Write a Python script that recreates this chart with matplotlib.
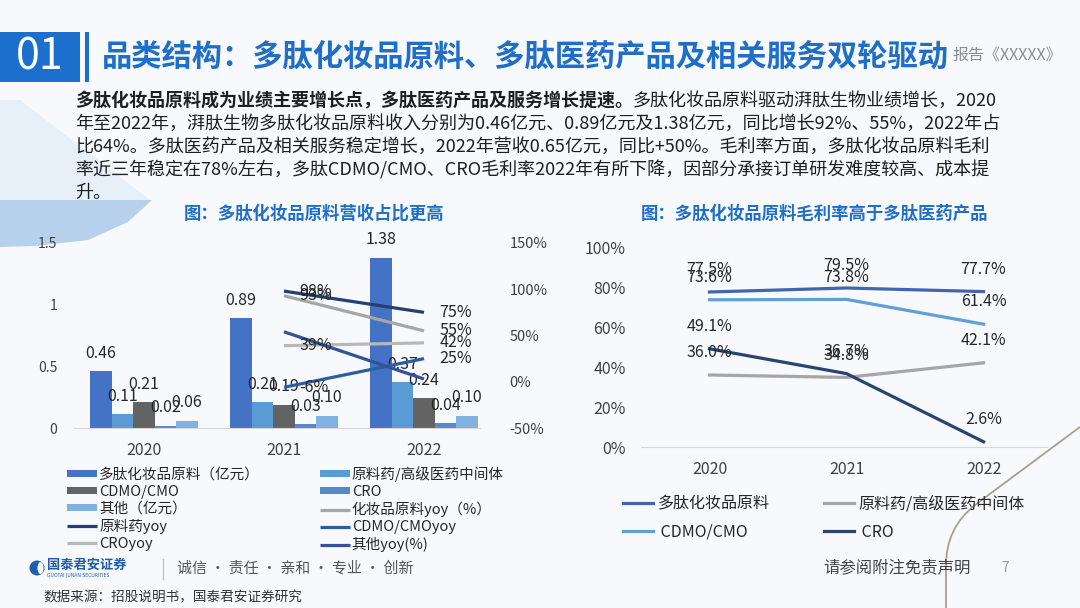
import matplotlib
matplotlib.use('Agg')
import matplotlib.pyplot as plt
from matplotlib.patches import Rectangle, Polygon, Circle, Ellipse, PathPatch
from matplotlib.path import Path
import numpy as np

plt.rcParams['font.family'] = ['Noto Sans CJK SC', 'DejaVu Sans']

# ---------------- data ----------------
years = ['2020', '2021', '2022']
bar_names = ['多肽化妆品原料（亿元）', '原料药/高级医药中间体', 'CDMO/CMO', 'CRO', '其他（亿元）']
rev_cosmetic = [0.46, 0.89, 1.38]
rev_api = [0.11, 0.21, 0.37]
rev_cdmo = [0.21, 0.19, 0.24]
rev_cro = [0.02, 0.03, 0.04]
rev_other = [0.06, 0.10, 0.10]

yoy_years = ['2021', '2022']
yoy_names = ['化妆品原料yoy（%）', '原料药yoy', 'CDMO/CMOyoy', 'CROyoy', '其他yoy(%)']
yoy_cosmetic = [93, 55]
yoy_api = [98, 75]
yoy_cdmo = [-6, 25]
yoy_cro = [39, 42]
yoy_other = [54, 3]

left_yticks = [0, 0.5, 1, 1.5]
left_yticklabels = ['0', '0.5', '1', '1.5']
right_yticks = [-50, 0, 50, 100, 150]

gm_names = ['多肽化妆品原料', '原料药/高级医药中间体', 'CDMO/CMO', 'CRO']
gm_cosmetic = [77.5, 79.5, 77.7]
gm_api = [36.0, 34.8, 42.1]
gm_cdmo = [73.6, 73.8, 61.4]
gm_cro = [49.1, 36.7, 2.6]
gm_yticks = [0, 20, 40, 60, 80, 100]

# ---------------- figure ----------------
W, H = 1080, 608
fig = plt.figure(figsize=(10.8, 6.08), dpi=100, facecolor='#f7f9fc')

bg = fig.add_axes([0, 0, 1, 1], zorder=-10)
bg.set_xlim(0, W)
bg.set_ylim(H, 0)
bg.axis('off')

# decorations
bg.add_patch(Polygon([(0, 100), (20, 100), (150, 200), (0, 200)], closed=True,
                     facecolor='#e7eff8', edgecolor='none'))
bg.add_patch(Polygon([(0, 200), (152, 200), (128, 222), (88, 240), (35, 246), (0, 247)],
                     closed=True, facecolor='#b7d0ec', edgecolor='none'))
curve = Path([(1080, 427), (975, 505), (946, 528), (946, 565), (946, 608)],
             [Path.MOVETO, Path.LINETO, Path.CURVE3, Path.CURVE3, Path.LINETO])
bg.add_patch(PathPatch(curve, facecolor='none', edgecolor='#a9a08b', lw=1.3))

# header
blue = '#1c6fcc'
bg.add_patch(Rectangle((0, 32), 80, 50, facecolor=blue, edgecolor='none'))
bg.add_patch(Rectangle((85, 32), 4, 50, facecolor=blue, edgecolor='none'))
bg.text(40, 57, '01', color='white', fontsize=31, ha='center', va='center', fontweight='light')
bg.text(1062, 55, '报告《XXXXX》', color='#8a8f96', fontsize=11.5, ha='right', va='center')
bg.text(102, 57, '品类结构：多肽化妆品原料、多肽医药产品及相关服务双轮驱动', color='#1f6fc8',
        fontsize=21.8, fontweight='bold', ha='left', va='center')

# paragraph
ptxt = '#1e1e1e'
t1 = bg.text(75, 101, '多肽化妆品原料成为业绩主要增长点，多肽医药产品及服务增长提速。',
             fontsize=13, fontweight='bold', color=ptxt, ha='left', va='center')
bg.annotate('多肽化妆品原料驱动湃肽生物业绩增长，2020', xy=(1, 0.5), xycoords=t1,
            fontsize=13, color=ptxt, ha='left', va='center')
para = ['年至2022年，湃肽生物多肽化妆品原料收入分别为0.46亿元、0.89亿元及1.38亿元，同比增长92%、55%，2022年占',
        '比64%。多肽医药产品及相关服务稳定增长，2022年营收0.65亿元，同比+50%。毛利率方面，多肽化妆品原料毛利',
        '率近三年稳定在78%左右，多肽CDMO/CMO、CRO毛利率2022年有所下降，因部分承接订单研发难度较高、成本提',
        '升。']
for i, line in enumerate(para):
    bg.text(75, 124 + 23 * i, line, fontsize=13, color=ptxt, ha='left', va='center')

# chart titles
bg.text(314, 214, '图：多肽化妆品原料营收占比更高', color='#1f6fc8', fontsize=12.5,
        fontweight='bold', ha='center', va='center')
bg.text(815, 214, '图：多肽化妆品原料毛利率高于多肽医药产品', color='#1f6fc8', fontsize=12.5,
        fontweight='bold', ha='center', va='center')

# footer
bg.add_patch(Circle((37, 568), 7.5, facecolor='#1b5fae', edgecolor='none'))
bg.add_patch(Ellipse((40.5, 568), 6, 12, facecolor='white', edgecolor='none'))
bg.text(47, 565, '国泰君安证券', color='#1b5fae', fontsize=9.5, fontweight='bold', ha='left', va='center')
bg.text(47, 575, 'GUOTAI JUNAN SECURITIES', color='#1b5fae', fontsize=3.3, ha='left', va='center',
        family='DejaVu Sans')
bg.plot([163, 163], [559, 579], color='#c4c4c4', lw=1)
bg.text(177, 568, '诚信 · 责任 · 亲和 · 专业 · 创新', color='#555555', fontsize=10.8, ha='left', va='center')
bg.text(43, 597, '数据来源：招股说明书，国泰君安证券研究', color='#333333', fontsize=9.8, ha='left', va='center')
bg.text(823, 568, '请参阅附注免责声明', color='#444444', fontsize=11.8, ha='left', va='center')
bg.text(1005, 568, '7', color='#9a9a9a', fontsize=10, ha='center', va='center')

lab = '#262626'

# ---------------- left chart ----------------
axL = fig.add_axes([74 / W, 1 - 428 / H, (494 - 74) / W, (428 - 243) / H])
axL.patch.set_alpha(0)
x = np.arange(len(years))
bw = 0.153
bar_series = [rev_cosmetic, rev_api, rev_cdmo, rev_cro, rev_other]
bar_colors = ['#4472C4', '#5B9BD5', '#636363', '#5B86CC', '#7FB2E0']
bar_handles = []
for k, (vals, col, name) in enumerate(zip(bar_series, bar_colors, bar_names)):
    xs = x + (k - 2) * bw
    bars = axL.bar(xs, vals, width=bw, color=col, label=name, zorder=2)
    bar_handles.append(bars)
    for xi, v in zip(xs, vals):
        axL.annotate(f'{v:.2f}', (xi, v), xytext=(0, 13), textcoords='offset points',
                     ha='center', va='center', fontsize=11.5, color=lab, zorder=5)
axL.set_xlim(-0.5, 2.5)
axL.set_ylim(0, 1.5)
axL.set_xticks(x)
axL.set_xticklabels(years)
axL.set_yticks(left_yticks)
axL.set_yticklabels(left_yticklabels)
axL.tick_params(axis='both', length=0, colors='#404040')
axL.tick_params(axis='y', pad=12, labelsize=10)
axL.tick_params(axis='x', pad=10, labelsize=11.5)
for s in ['left', 'right', 'top']:
    axL.spines[s].set_visible(False)
axL.spines['bottom'].set_color('#d9d9d9')
axL.spines['bottom'].set_bounds(-0.5, 2.4)

axR = axL.twinx()
axR.set_ylim(-50, 150)
axR.set_yticks(right_yticks)
axR.set_yticklabels([f'{v}%' for v in right_yticks])
axR.tick_params(axis='y', length=0, pad=11, labelsize=10.5, colors='#404040')
for s in ['left', 'right', 'top', 'bottom']:
    axR.spines[s].set_visible(False)
yx = np.array([1, 2])
yoy_series = [yoy_cosmetic, yoy_api, yoy_cdmo, yoy_cro, yoy_other]
yoy_colors = ['#A6A6A6', '#24406f', '#2C5E9F', '#B8B8B8', '#34529A']
yoy_labelled = [True, True, True, True, False]
line_handles = []
for vals, col, name, lbl in zip(yoy_series, yoy_colors, yoy_names, yoy_labelled):
    ln, = axR.plot(yx, vals, color=col, lw=2.3, label=name, zorder=3, solid_capstyle='butt')
    line_handles.append(ln)
    if lbl:
        for xi, v in zip(yx, vals):
            axR.annotate(f'{v}%', (xi, v), xytext=(11, 0), textcoords='offset points',
                         ha='left', va='center', fontsize=11.5, color=lab, zorder=5)

handles = bar_handles + line_handles
labels = bar_names + yoy_names
order = [0, 2, 4, 6, 8, 1, 3, 5, 7, 9]
legL = fig.legend([handles[i] for i in order], [labels[i] for i in order], ncol=2,
                  loc='center left', bbox_to_anchor=(67 / W, 1 - 509 / H), frameon=False,
                  fontsize=10.5, handlelength=2.05, handleheight=0.4, handletextpad=0.15,
                  columnspacing=4.1, labelspacing=0.2, borderpad=0, borderaxespad=0)
for t in legL.get_texts():
    t.set_color('#262626')

# ---------------- right chart ----------------
ax3 = fig.add_axes([641 / W, 1 - 447 / H, (1048 - 641) / W, 200 / H])
ax3.patch.set_alpha(0)
gm_series = [gm_cosmetic, gm_api, gm_cdmo, gm_cro]
gm_colors = ['#4266AE', '#A6A6A6', '#5FA0D6', '#2A4470']
gm_handles = []
for vals, col, name in zip(gm_series, gm_colors, gm_names):
    ln, = ax3.plot(x, vals, color=col, lw=2.3, label=name, zorder=3)
    gm_handles.append(ln)
    for xi, v in zip(x, vals):
        ax3.annotate(f'{v:.1f}%', (xi, v), xytext=(0, 16), textcoords='offset points',
                     ha='center', va='center', fontsize=11.5, color=lab, zorder=5)
ax3.set_xlim(-0.5, 2.47)
ax3.set_ylim(0, 100)
ax3.set_xticks(x)
ax3.set_xticklabels(years)
ax3.set_yticks(gm_yticks)
ax3.set_yticklabels([f'{v}%' for v in gm_yticks])
ax3.tick_params(axis='both', length=0, colors='#404040', labelsize=11.5)
ax3.tick_params(axis='y', pad=11)
ax3.tick_params(axis='x', pad=10)
for s in ['left', 'right', 'top']:
    ax3.spines[s].set_visible(False)
ax3.spines['bottom'].set_color('#d9d9d9')

gm_labels = [' ' + n if n in ('CDMO/CMO', 'CRO') else n for n in gm_names]
gorder = [0, 2, 1, 3]
legR = fig.legend([gm_handles[i] for i in gorder], [gm_labels[i] for i in gorder],
                  ncol=2, loc='center left', bbox_to_anchor=(623 / W, 1 - 518 / H),
                  frameon=False, fontsize=11.5, handlelength=1.9, handletextpad=0.25,
                  columnspacing=3.4, labelspacing=0.72, borderpad=0, borderaxespad=0)
for t in legR.get_texts():
    t.set_color('#262626')

fig.savefig('out.png', dpi=100, facecolor=fig.get_facecolor())
